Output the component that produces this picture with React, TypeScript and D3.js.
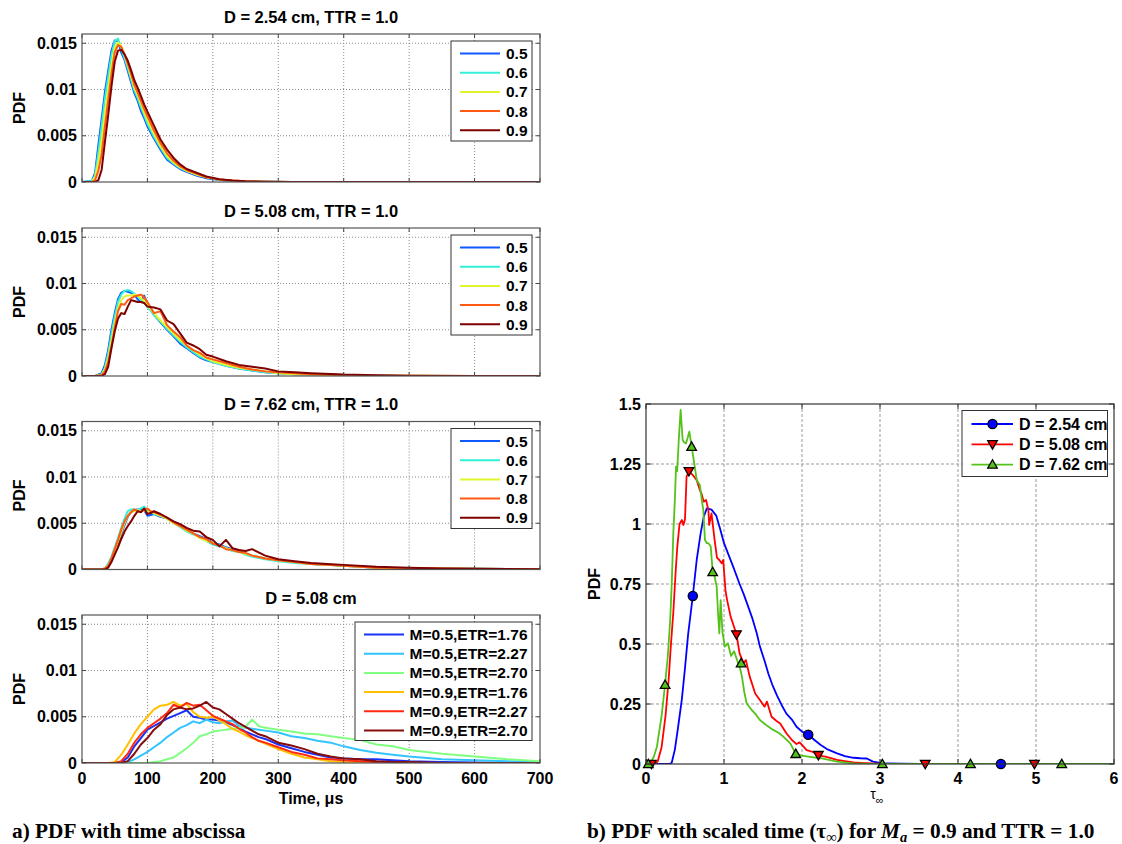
import React from 'react';
import * as d3 from 'd3';

// ---------------- data: left column (PDF vs time) ----------------
const TIME_TICKS = [0, 100, 200, 300, 400, 500, 600, 700];
const PDF_TICKS = [0, 0.005, 0.01, 0.015];
const PDF_TICK_LABELS = ['0', '0.005', '0.01', '0.015'];

const MACH_LABELS = ['0.5', '0.6', '0.7', '0.8', '0.9'];
const MACH_COLORS = ['#1058ff', '#33f0d8', '#e2f52a', '#ff5a14', '#7e0000'];

const T1 = [0, 15, 20, 25, 30, 35, 40, 45, 50, 55, 60, 65, 70, 75, 80, 85, 90, 95, 100, 110, 120, 130, 140, 150, 160, 175, 190, 210, 230, 250, 280, 320, 400, 500, 600, 700];
const P1_05 = [0, 0.0001, 0.001, 0.004, 0.0068, 0.0097, 0.012, 0.0142, 0.0153, 0.0152, 0.014, 0.0132, 0.012, 0.0108, 0.0096, 0.0088, 0.0077, 0.0069, 0.006, 0.0047, 0.0035, 0.0024, 0.0019, 0.0014, 0.0011, 0.0007, 0.0004, 0.00022, 0.00012, 0.00006, 0.00003, 0.00001, 0, 0, 0, 0];
const P1_06 = [0, 0.0001, 0.0007, 0.0032, 0.006, 0.009, 0.0114, 0.0137, 0.0152, 0.0155, 0.0144, 0.0134, 0.0123, 0.0111, 0.0099, 0.0091, 0.0081, 0.0072, 0.0063, 0.0049, 0.0037, 0.0026, 0.002, 0.0015, 0.0012, 0.0008, 0.0005, 0.00025, 0.00013, 0.00007, 0.00003, 0.00001, 0, 0, 0, 0];
const P1_07 = [0, 0, 0.0005, 0.0022, 0.0045, 0.0075, 0.01, 0.0126, 0.0145, 0.0151, 0.0147, 0.0137, 0.0126, 0.0114, 0.0102, 0.0094, 0.0085, 0.0075, 0.0067, 0.0052, 0.0039, 0.0028, 0.0021, 0.0016, 0.0012, 0.0008, 0.0005, 0.00027, 0.00014, 0.00007, 0.00003, 0.00001, 0, 0, 0, 0];
const P1_08 = [0, 0, 0.0002, 0.0012, 0.003, 0.006, 0.0088, 0.0116, 0.014, 0.0148, 0.0146, 0.0138, 0.0128, 0.0117, 0.0105, 0.0097, 0.0088, 0.0079, 0.0071, 0.0056, 0.0042, 0.0031, 0.0023, 0.0017, 0.0013, 0.0009, 0.0005, 0.00028, 0.00015, 0.00008, 0.00004, 0.00001, 0, 0, 0, 0];
const P1_09 = [0, 0, 0, 0.0002, 0.0013, 0.0043, 0.0072, 0.0103, 0.013, 0.0142, 0.0143, 0.0138, 0.0131, 0.0121, 0.011, 0.0102, 0.0093, 0.0084, 0.0076, 0.0061, 0.0046, 0.0035, 0.0026, 0.0019, 0.0014, 0.001, 0.0006, 0.0003, 0.00016, 0.00008, 0.00004, 0.00001, 0, 0, 0, 0];

const T2 = [0, 20, 30, 35, 40, 45, 50, 55, 60, 65, 70, 75, 80, 85, 90, 95, 100, 110, 120, 130, 140, 150, 160, 170, 180, 190, 200, 220, 240, 260, 280, 300, 325, 350, 400, 450, 500, 600, 700];
const P2_05 = [0, 0, 0.0003, 0.0012, 0.0028, 0.005, 0.0068, 0.0083, 0.009, 0.0092, 0.0091, 0.009, 0.0088, 0.0083, 0.008, 0.0087, 0.0078, 0.0066, 0.0058, 0.005, 0.0043, 0.0035, 0.003, 0.0025, 0.002, 0.0017, 0.0015, 0.0011, 0.0008, 0.0006, 0.0004, 0.0003, 0.0002, 0.00015, 0.00006, 0.00003, 0.00001, 0, 0];
const P2_06 = [0, 0, 0.0002, 0.0009, 0.0024, 0.0045, 0.0064, 0.008, 0.0088, 0.0092, 0.0093, 0.0092, 0.0089, 0.0086, 0.0082, 0.0079, 0.0075, 0.0066, 0.0059, 0.0051, 0.0044, 0.0037, 0.0031, 0.0026, 0.0021, 0.0018, 0.0015, 0.0011, 0.0008, 0.0006, 0.0004, 0.0003, 0.0002, 0.00015, 0.00007, 0.00003, 0.00001, 0, 0];
const P2_07 = [0, 0, 0.0001, 0.0007, 0.0019, 0.0038, 0.0057, 0.0073, 0.0082, 0.0086, 0.0087, 0.0087, 0.0088, 0.0087, 0.0084, 0.0081, 0.0077, 0.0068, 0.006, 0.0053, 0.0046, 0.0039, 0.0033, 0.0028, 0.0023, 0.0019, 0.0016, 0.0012, 0.0009, 0.0007, 0.0005, 0.0003, 0.0002, 0.00015, 0.00008, 0.00004, 0.00002, 0, 0];
const P2_08 = [0, 0, 0.0001, 0.0005, 0.0015, 0.0032, 0.0052, 0.007, 0.0078, 0.0077, 0.0082, 0.0084, 0.0086, 0.0087, 0.0088, 0.0085, 0.008, 0.0068, 0.007, 0.0055, 0.0048, 0.0042, 0.0033, 0.0028, 0.0025, 0.002, 0.0018, 0.0014, 0.001, 0.0007, 0.0005, 0.0004, 0.0003, 0.0002, 0.0001, 0.00004, 0.00002, 0, 0];
const P2_09 = [0, 0, 0, 0.0002, 0.001, 0.003, 0.0048, 0.0062, 0.0068, 0.0067, 0.0075, 0.0082, 0.0081, 0.008, 0.008, 0.0079, 0.0075, 0.0074, 0.0072, 0.006, 0.0056, 0.0046, 0.0036, 0.0033, 0.0029, 0.0023, 0.0021, 0.0016, 0.0012, 0.001, 0.0008, 0.0005, 0.0004, 0.0003, 0.00015, 0.00008, 0.00004, 0.00001, 0];

const T3 = [0, 30, 35, 40, 45, 50, 55, 60, 65, 70, 75, 80, 85, 90, 95, 100, 105, 110, 120, 130, 140, 150, 160, 170, 180, 190, 200, 210, 220, 230, 240, 250, 260, 280, 300, 325, 350, 375, 400, 450, 500, 550, 600, 650, 700];
const P3_05 = [0, 0, 0.0001, 0.0005, 0.0012, 0.002, 0.0028, 0.0038, 0.0048, 0.0057, 0.0062, 0.0064, 0.0065, 0.0065, 0.0064, 0.0058, 0.0059, 0.006, 0.0057, 0.0055, 0.0051, 0.0048, 0.0043, 0.0039, 0.0036, 0.0033, 0.0029, 0.0027, 0.0024, 0.0022, 0.002, 0.0017, 0.0015, 0.0012, 0.001, 0.0008, 0.0006, 0.0005, 0.0004, 0.0002, 0.00015, 0.0001, 0.00008, 0.00005, 0.00003];
const P3_06 = [0, 0, 0.0001, 0.0006, 0.0014, 0.0024, 0.0034, 0.0045, 0.0055, 0.0063, 0.0065, 0.0065, 0.0064, 0.0066, 0.0068, 0.0064, 0.0062, 0.006, 0.0058, 0.0055, 0.005, 0.0046, 0.0041, 0.0038, 0.0035, 0.0031, 0.0027, 0.0025, 0.0023, 0.002, 0.0019, 0.0016, 0.0014, 0.0011, 0.0009, 0.0007, 0.0006, 0.0005, 0.0004, 0.0002, 0.00015, 0.0001, 0.00008, 0.00005, 0.00003];
const P3_07 = [0, 0, 0.0001, 0.0004, 0.0011, 0.002, 0.003, 0.004, 0.005, 0.0058, 0.0062, 0.0063, 0.0064, 0.0063, 0.0064, 0.0062, 0.0063, 0.0061, 0.0058, 0.0055, 0.005, 0.0047, 0.0042, 0.0039, 0.0034, 0.0031, 0.0029, 0.0026, 0.0023, 0.0021, 0.0019, 0.0017, 0.0015, 0.0012, 0.001, 0.0008, 0.0006, 0.0005, 0.0004, 0.0002, 0.00015, 0.0001, 0.00007, 0.00005, 0.00003];
const P3_08 = [0, 0, 0.0001, 0.0004, 0.0012, 0.0022, 0.0032, 0.0043, 0.0052, 0.0058, 0.0062, 0.0065, 0.0063, 0.0062, 0.0065, 0.0066, 0.0063, 0.0062, 0.0059, 0.0056, 0.0051, 0.0047, 0.0043, 0.0039, 0.0035, 0.0033, 0.0028, 0.0026, 0.0022, 0.0021, 0.0019, 0.0018, 0.0015, 0.0012, 0.001, 0.0008, 0.0006, 0.0005, 0.0004, 0.0002, 0.00015, 0.0001, 0.00007, 0.00005, 0.00003];
const P3_09 = [0, 0, 0, 0.0002, 0.0008, 0.0016, 0.0024, 0.0033, 0.0041, 0.0047, 0.0052, 0.0058, 0.0063, 0.0062, 0.0066, 0.006, 0.0061, 0.0063, 0.006, 0.0056, 0.0052, 0.0049, 0.0045, 0.0042, 0.0041, 0.0035, 0.0032, 0.0025, 0.0032, 0.0023, 0.0021, 0.002, 0.0022, 0.0015, 0.0011, 0.0009, 0.0007, 0.0006, 0.0005, 0.0003, 0.0002, 0.00012, 0.00008, 0.00005, 0.00003];

const CASE_LABELS = ['M=0.5,ETR=1.76', 'M=0.5,ETR=2.27', 'M=0.5,ETR=2.70', 'M=0.9,ETR=1.76', 'M=0.9,ETR=2.27', 'M=0.9,ETR=2.70'];
const CASE_COLORS = ['#1a30f5', '#33c4ff', '#80ff80', '#ffc000', '#ff2a10', '#870c0c'];
const T4 = [0, 40, 50, 60, 70, 80, 90, 100, 110, 120, 130, 140, 150, 160, 170, 180, 190, 200, 210, 220, 230, 240, 250, 260, 270, 280, 300, 320, 340, 360, 380, 400, 425, 450, 475, 500, 550, 600, 650, 700];
const P4_05_176 = [0, 0, 0, 0.0001, 0.0006, 0.0018, 0.0027, 0.0036, 0.004, 0.0044, 0.0048, 0.0051, 0.0054, 0.0057, 0.005, 0.0049, 0.0047, 0.0047, 0.0046, 0.0044, 0.0041, 0.0038, 0.0034, 0.0031, 0.0028, 0.0026, 0.002, 0.0016, 0.0012, 0.0009, 0.0006, 0.0005, 0.0004, 0.0004, 0.0003, 0.0002, 0.0001, 0.00005, 0, 0];
const P4_05_227 = [0, 0, 0, 0, 0.0001, 0.0004, 0.0008, 0.0012, 0.0017, 0.0022, 0.0028, 0.0033, 0.0038, 0.0041, 0.0045, 0.0043, 0.0047, 0.0044, 0.0043, 0.0045, 0.0046, 0.004, 0.0038, 0.0037, 0.0036, 0.0035, 0.0033, 0.0029, 0.0027, 0.0024, 0.0022, 0.0018, 0.0014, 0.0011, 0.0009, 0.0007, 0.0004, 0.0003, 0.0002, 0.0001];
const P4_05_270 = [0, 0, 0, 0, 0, 0, 0, 0, 0.0001, 0.0002, 0.0004, 0.0006, 0.0011, 0.0016, 0.0022, 0.0029, 0.0031, 0.0034, 0.0035, 0.0036, 0.0037, 0.0038, 0.0039, 0.0047, 0.004, 0.0038, 0.0036, 0.0034, 0.0032, 0.0031, 0.0029, 0.0027, 0.0025, 0.002, 0.0018, 0.0014, 0.001, 0.0007, 0.0004, 0.0002];
const P4_09_176 = [0, 0, 0.0001, 0.0009, 0.002, 0.0032, 0.0042, 0.005, 0.0058, 0.0062, 0.0063, 0.0066, 0.0062, 0.0064, 0.0055, 0.005, 0.0049, 0.005, 0.0046, 0.0042, 0.0037, 0.0034, 0.003, 0.0027, 0.0024, 0.0021, 0.0015, 0.001, 0.0006, 0.0004, 0.0002, 0.0001, 0.00005, 0, 0, 0, 0, 0, 0, 0];
const P4_09_227 = [0, 0, 0, 0.0002, 0.001, 0.0022, 0.0031, 0.0038, 0.0043, 0.0048, 0.0054, 0.0063, 0.006, 0.0065, 0.0062, 0.0063, 0.0057, 0.0051, 0.0048, 0.0045, 0.0042, 0.0037, 0.0033, 0.0028, 0.0024, 0.0022, 0.0017, 0.0012, 0.0009, 0.0005, 0.0004, 0.0003, 0.0002, 0.0001, 0.00005, 0, 0, 0, 0, 0];
const P4_09_270 = [0, 0, 0, 0, 0.0002, 0.001, 0.002, 0.0027, 0.0036, 0.0042, 0.0052, 0.0058, 0.006, 0.0058, 0.0059, 0.0062, 0.0066, 0.006, 0.0058, 0.0053, 0.0048, 0.0043, 0.0039, 0.0035, 0.0031, 0.0029, 0.0022, 0.0019, 0.0015, 0.001, 0.0007, 0.0005, 0.0004, 0.0002, 0.0001, 0.0001, 0, 0, 0, 0];

// ---------------- data: right panel (PDF vs scaled time) ----------------
const TAU_TICKS = [0, 1, 2, 3, 4, 5, 6];
const SPDF_TICKS = [0, 0.25, 0.5, 0.75, 1, 1.25, 1.5];
const SPDF_TICK_LABELS = ['0', '0.25', '0.5', '0.75', '1', '1.25', '1.5'];
const D_LABELS = ['D = 2.54 cm', 'D = 5.08 cm', 'D = 7.62 cm'];
const D_COLORS = ['#0000ff', '#ff0000', '#55c21a'];

const TAU_A = [0, 0.3, 0.33, 0.37, 0.41, 0.46, 0.5, 0.54, 0.6, 0.65, 0.7, 0.74, 0.78, 0.84, 0.9, 0.95, 1.0, 1.06, 1.12, 1.2, 1.25, 1.3, 1.36, 1.42, 1.46, 1.52, 1.57, 1.62, 1.68, 1.74, 1.8, 1.87, 1.93, 2.0, 2.08, 2.16, 2.24, 2.32, 2.45, 2.55, 2.66, 2.75, 2.83, 2.91, 3.0, 3.08, 3.5, 4, 5, 6];
const SPDF_A = [0, 0, 0.005, 0.06, 0.15, 0.27, 0.4, 0.54, 0.7, 0.85, 0.96, 1.03, 1.065, 1.06, 1.035, 0.98, 0.92, 0.87, 0.82, 0.75, 0.71, 0.665, 0.61, 0.545, 0.49, 0.43, 0.375, 0.33, 0.285, 0.245, 0.21, 0.185, 0.155, 0.135, 0.122, 0.1, 0.079, 0.062, 0.044, 0.033, 0.026, 0.024, 0.023, 0.01, 0.005, 0.002, 0, 0, 0, 0];
const TAU_B = [0, 0.1, 0.15, 0.2, 0.25, 0.29, 0.32, 0.35, 0.38, 0.4, 0.43, 0.46, 0.48, 0.5, 0.52, 0.55, 0.6, 0.65, 0.69, 0.71, 0.74, 0.77, 0.8, 0.81, 0.84, 0.88, 0.91, 0.94, 0.97, 0.99, 1.02, 1.04, 1.085, 1.12, 1.16, 1.2, 1.25, 1.28, 1.33, 1.4, 1.46, 1.52, 1.55, 1.61, 1.67, 1.72, 1.8, 1.87, 1.93, 1.97, 2.06, 2.14, 2.22, 2.3, 2.45, 2.55, 2.66, 2.8, 2.9, 3.0, 3.5, 4, 5, 6];
const SPDF_B = [0, 0, 0.01, 0.07, 0.2, 0.35, 0.5, 0.63, 0.8, 0.9, 1.0, 1.017, 0.996, 1.02, 1.197, 1.22, 1.204, 1.183, 1.142, 1.128, 1.093, 1.1, 1.058, 0.996, 1.044, 0.933, 0.86, 0.85, 0.836, 0.85, 0.72, 0.683, 0.614, 0.58, 0.54, 0.461, 0.42, 0.433, 0.364, 0.294, 0.267, 0.239, 0.26, 0.197, 0.18, 0.169, 0.128, 0.1, 0.083, 0.09, 0.058, 0.05, 0.035, 0.031, 0.017, 0.012, 0.007, 0.004, 0.002, 0.001, 0, 0, 0, 0];
const TAU_C = [0, 0.05, 0.1, 0.14, 0.2, 0.244, 0.28, 0.31, 0.33, 0.35, 0.37, 0.385, 0.4, 0.42, 0.444, 0.47, 0.49, 0.513, 0.535, 0.556, 0.585, 0.62, 0.65, 0.69, 0.715, 0.735, 0.756, 0.78, 0.8, 0.83, 0.855, 0.88, 0.906, 0.925, 0.94, 0.957, 0.98, 1.01, 1.05, 1.09, 1.13, 1.17, 1.205, 1.23, 1.26, 1.29, 1.355, 1.4, 1.46, 1.55, 1.63, 1.7, 1.76, 1.85, 1.92, 2.0, 2.1, 2.24, 2.45, 2.66, 2.8, 3.0, 3.5, 4, 5, 6];
const SPDF_C = [0, 0, 0.03, 0.072, 0.2, 0.33, 0.45, 0.6, 0.75, 0.961, 1.1, 1.239, 1.22, 1.35, 1.475, 1.35, 1.34, 1.336, 1.36, 1.385, 1.322, 1.25, 1.183, 1.163, 1.1, 1.058, 0.933, 0.92, 0.92, 0.906, 0.8, 0.78, 0.739, 0.62, 0.544, 0.683, 0.55, 0.489, 0.503, 0.45, 0.47, 0.43, 0.4, 0.364, 0.3, 0.253, 0.225, 0.21, 0.183, 0.16, 0.142, 0.13, 0.114, 0.086, 0.042, 0.035, 0.03, 0.024, 0.01, 0.003, 0.001, 0, 0, 0, 0, 0];

const MK_A_TAU = [0.6, 2.08, 4.55];
const MK_A_PDF = [0.7, 0.122, 0];
const MK_B_TAU = [0.07, 0.55, 1.16, 2.21, 3.58, 4.98];
const MK_B_PDF = [0, 1.22, 0.54, 0.037, 0, 0];
const MK_C_TAU = [0.03, 0.245, 0.585, 0.855, 1.22, 1.92, 3.03, 4.16, 5.33];
const MK_C_PDF = [0, 0.33, 1.322, 0.8, 0.42, 0.042, 0, 0, 0];

// ---------------- layout ----------------
const SANS = "'Liberation Sans', Arial, Helvetica, sans-serif";
const SERIF = "'Liberation Serif', 'Times New Roman', serif";
const FS = 16;
const FS_LEG = 15.5;

type Series = { label: string; color: string; t: number[]; v: number[] };

const leftPanels = [
  { title: 'D = 2.54 cm, TTR = 1.0', bottom: 182, series: [P1_05, P1_06, P1_07, P1_08, P1_09].map((v, i) => ({ label: MACH_LABELS[i], color: MACH_COLORS[i], t: T1, v })) },
  { title: 'D = 5.08 cm, TTR = 1.0', bottom: 376, series: [P2_05, P2_06, P2_07, P2_08, P2_09].map((v, i) => ({ label: MACH_LABELS[i], color: MACH_COLORS[i], t: T2, v })) },
  { title: 'D = 7.62 cm, TTR = 1.0', bottom: 569.5, series: [P3_05, P3_06, P3_07, P3_08, P3_09].map((v, i) => ({ label: MACH_LABELS[i], color: MACH_COLORS[i], t: T3, v })) },
  { title: 'D = 5.08 cm', bottom: 763, series: [P4_05_176, P4_05_227, P4_05_270, P4_09_176, P4_09_227, P4_09_270].map((v, i) => ({ label: CASE_LABELS[i], color: CASE_COLORS[i], t: T4, v })) },
];

const LX0 = 82;
const LX1 = 540;
const PH = 148;

function LeftPanel({ p, idx }: { p: { title: string; bottom: number; series: Series[] }; idx: number }) {
  const top = p.bottom - PH;
  const x = d3.scaleLinear().domain([0, 700]).range([LX0, LX1]);
  const y = d3.scaleLinear().domain([0, 0.016]).range([p.bottom, top]);
  const line = d3.line<[number, number]>().x((d) => x(d[0])).y((d) => y(d[1]));
  const isLast = idx === 3;
  const legX0 = isLast ? 355 : 451;
  const legX1 = 532;
  const legTop = top + 7;
  const legH = isLast ? 118.5 : 100;
  const lineX0 = isLast ? 364 : 460;
  const lineX1 = isLast ? 404 : 500;
  const textX = isLast ? 409.5 : 506;
  const rowStep = 19.2;
  const clipId = `clipL${idx}`;
  return (
    <g>
      <defs>
        <clipPath id={clipId}>
          <rect x={LX0} y={top} width={LX1 - LX0} height={PH} />
        </clipPath>
      </defs>
      <rect x={LX0} y={top} width={LX1 - LX0} height={PH} fill="#fff" />
      {TIME_TICKS.slice(1, -1).map((t) => (
        <line key={'gx' + t} x1={x(t)} x2={x(t)} y1={top} y2={p.bottom} stroke="#8a8a8a" strokeWidth={1} strokeDasharray="1,2" />
      ))}
      {PDF_TICKS.slice(1).map((v) => (
        <line key={'gy' + v} x1={LX0} x2={LX1} y1={y(v)} y2={y(v)} stroke="#8a8a8a" strokeWidth={1} strokeDasharray="1,2" />
      ))}
      <g clipPath={`url(#${clipId})`}>
        {p.series.map((s) => (
          <path key={s.label} d={line(s.t.map((t, i) => [t, s.v[i]] as [number, number])) || ''} fill="none" stroke={s.color} strokeWidth={2} strokeLinejoin="round" />
        ))}
      </g>
      {TIME_TICKS.map((t) => (
        <g key={'tx' + t}>
          <line x1={x(t)} x2={x(t)} y1={p.bottom} y2={p.bottom - 4} stroke="#444" />
          <line x1={x(t)} x2={x(t)} y1={top} y2={top + 4} stroke="#444" />
        </g>
      ))}
      {PDF_TICKS.map((v) => (
        <g key={'ty' + v}>
          <line x1={LX0} x2={LX0 + 4} y1={y(v)} y2={y(v)} stroke="#444" />
          <line x1={LX1} x2={LX1 - 4} y1={y(v)} y2={y(v)} stroke="#444" />
        </g>
      ))}
      <rect x={LX0} y={top} width={LX1 - LX0} height={PH} fill="none" stroke="#555" strokeWidth={1.2} />
      {PDF_TICKS.map((v, i) => (
        <text key={'yl' + v} x={LX0 - 5} y={y(v)} textAnchor="end" dominantBaseline="central" fontFamily={SANS} fontWeight="bold" fontSize={FS}>
          {PDF_TICK_LABELS[i]}
        </text>
      ))}
      {isLast &&
        TIME_TICKS.map((t) => (
          <text key={'xl' + t} x={x(t)} y={p.bottom + 15} textAnchor="middle" dominantBaseline="central" fontFamily={SANS} fontWeight="bold" fontSize={FS}>
            {t}
          </text>
        ))}
      {isLast && (
        <text x={(LX0 + LX1) / 2} y={p.bottom + 35} textAnchor="middle" dominantBaseline="central" fontFamily={SANS} fontWeight="bold" fontSize={FS}>
          Time, μs
        </text>
      )}
      <text x={(LX0 + LX1) / 2} y={top - 17.5} textAnchor="middle" dominantBaseline="central" fontFamily={SANS} fontWeight="bold" fontSize={16.5}>
        {p.title}
      </text>
      <text transform={`translate(19.5,${top + PH / 2}) rotate(-90)`} textAnchor="middle" dominantBaseline="central" fontFamily={SANS} fontWeight="bold" fontSize={FS}>
        PDF
      </text>
      <rect x={legX0} y={legTop} width={legX1 - legX0} height={legH} fill="#fff" stroke="#333" strokeWidth={1} />
      {p.series.map((s, i) => {
        const yy = legTop + 12.5 + i * rowStep;
        return (
          <g key={'lg' + s.label}>
            <line x1={lineX0} x2={lineX1} y1={yy} y2={yy} stroke={s.color} strokeWidth={2} />
            <text x={textX} y={yy} dominantBaseline="central" fontFamily={SANS} fontWeight="bold" fontSize={FS_LEG}>
              {s.label}
            </text>
          </g>
        );
      })}
    </g>
  );
}

function Marker({ kind, cx, cy, color }: { kind: number; cx: number; cy: number; color: string }) {
  if (kind === 0) return <circle cx={cx} cy={cy} r={4.6} fill={color} stroke="#000" strokeWidth={1.3} />;
  const s = 4.8;
  if (kind === 1) {
    return <path d={`M${cx - s},${cy - s * 0.75} L${cx + s},${cy - s * 0.75} L${cx},${cy + s} Z`} fill={color} stroke="#000" strokeWidth={1.3} />;
  }
  return <path d={`M${cx - s},${cy + s * 0.75} L${cx + s},${cy + s * 0.75} L${cx},${cy - s} Z`} fill={color} stroke="#000" strokeWidth={1.3} />;
}

function RightPanel() {
  const X0 = 646;
  const X1 = 1114;
  const Y0 = 764;
  const Y1 = 404;
  const x = d3.scaleLinear().domain([0, 6]).range([X0, X1]);
  const y = d3.scaleLinear().domain([0, 1.5]).range([Y0, Y1]);
  const line = d3.line<[number, number]>().x((d) => x(d[0])).y((d) => y(d[1]));
  const series = [
    { t: TAU_A, v: SPDF_A, mt: MK_A_TAU, mv: MK_A_PDF },
    { t: TAU_B, v: SPDF_B, mt: MK_B_TAU, mv: MK_B_PDF },
    { t: TAU_C, v: SPDF_C, mt: MK_C_TAU, mv: MK_C_PDF },
  ];
  const legX0 = 962;
  const legX1 = 1107.5;
  const legY0 = 410.5;
  const legY1 = 476.5;
  return (
    <g>
      <defs>
        <clipPath id="clipR">
          <rect x={X0} y={Y1} width={X1 - X0} height={Y0 - Y1} />
        </clipPath>
      </defs>
      {TAU_TICKS.slice(1, -1).map((t) => (
        <line key={'gx' + t} x1={x(t)} x2={x(t)} y1={Y1} y2={Y0} stroke="#999" strokeDasharray="3,2" />
      ))}
      {SPDF_TICKS.slice(1, -1).map((v) => (
        <line key={'gy' + v} x1={X0} x2={X1} y1={y(v)} y2={y(v)} stroke="#999" strokeDasharray="3,2" />
      ))}
      <g clipPath="url(#clipR)">
        {series.map((s, k) => (
          <path key={'rs' + k} d={line(s.t.map((t, i) => [t, s.v[i]] as [number, number])) || ''} fill="none" stroke={D_COLORS[k]} strokeWidth={1.8} strokeLinejoin="round" />
        ))}
      </g>
      {series.map((s, k) =>
        s.mt.map((t, i) => <Marker key={`m${k}-${i}`} kind={k} cx={x(t)} cy={y(s.mv[i])} color={D_COLORS[k]} />)
      )}
      {TAU_TICKS.map((t) => (
        <g key={'tx' + t}>
          <line x1={x(t)} x2={x(t)} y1={Y0} y2={Y0 - 5} stroke="#333" />
          <line x1={x(t)} x2={x(t)} y1={Y1} y2={Y1 + 5} stroke="#333" />
        </g>
      ))}
      {SPDF_TICKS.map((v) => (
        <g key={'ty' + v}>
          <line x1={X0} x2={X0 + 5} y1={y(v)} y2={y(v)} stroke="#333" />
          <line x1={X1} x2={X1 - 5} y1={y(v)} y2={y(v)} stroke="#333" />
        </g>
      ))}
      <rect x={X0} y={Y1} width={X1 - X0} height={Y0 - Y1} fill="none" stroke="#333" strokeWidth={1.2} />
      {SPDF_TICKS.map((v, i) => (
        <text key={'yl' + v} x={X0 - 5} y={y(v)} textAnchor="end" dominantBaseline="central" fontFamily={SANS} fontWeight="bold" fontSize={FS}>
          {SPDF_TICK_LABELS[i]}
        </text>
      ))}
      {TAU_TICKS.map((t) => (
        <text key={'xl' + t} x={x(t)} y={Y0 + 14} textAnchor="middle" dominantBaseline="central" fontFamily={SANS} fontWeight="bold" fontSize={FS}>
          {t}
        </text>
      ))}
      <text x={(X0 + X1) / 2 - 3} y={Y0 + 35} textAnchor="middle" fontFamily={SANS} fontSize={14}>
        τ<tspan dy={5} fontSize={11}>∞</tspan>
      </text>
      <text transform={`translate(594,${(Y0 + Y1) / 2}) rotate(-90)`} textAnchor="middle" dominantBaseline="central" fontFamily={SANS} fontWeight="bold" fontSize={FS}>
        PDF
      </text>
      <rect x={legX0} y={legY0} width={legX1 - legX0} height={legY1 - legY0} fill="#fff" stroke="#333" strokeWidth={1} />
      {D_LABELS.map((lab, k) => {
        const yy = legY0 + 13.5 + k * 20.3;
        return (
          <g key={'rl' + k}>
            <line x1={971.5} x2={1013} y1={yy} y2={yy} stroke={D_COLORS[k]} strokeWidth={1.8} />
            <Marker kind={k} cx={992.5} cy={yy} color={D_COLORS[k]} />
            <text x={1019} y={yy} dominantBaseline="central" fontFamily={SANS} fontWeight="bold" fontSize={FS}>
              {lab}
            </text>
          </g>
        );
      })}
    </g>
  );
}

export default function App() {
  return (
    <svg width={1122} height={844} viewBox="0 0 1122 844" style={{ position: 'absolute', left: 0, top: 0, background: '#fff' }}>
      <rect x={0} y={0} width={1122} height={844} fill="#fff" />
      {leftPanels.map((p, i) => (
        <LeftPanel key={i} p={p} idx={i} />
      ))}
      <RightPanel />
      <text x={12} y={838} fontFamily={SERIF} fontWeight="bold" fontSize={21.3}>
        a) PDF with time abscissa
      </text>
      <text x={587} y={838} fontFamily={SERIF} fontWeight="bold" fontSize={21.3}>
        b) PDF with scaled time (τ<tspan dy={4} fontSize={14.5}>∞</tspan>
        <tspan dy={-4}>) for </tspan>
        <tspan fontStyle="italic">M</tspan>
        <tspan fontStyle="italic" dy={4} fontSize={14.5}>a</tspan>
        <tspan dy={-4}> = 0.9 and TTR = 1.0</tspan>
      </text>
    </svg>
  );
}
